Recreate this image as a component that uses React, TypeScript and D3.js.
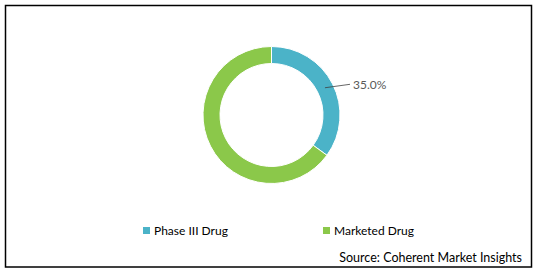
import React from "react";
import * as d3 from "d3";

const categories = ["Phase III Drug", "Marketed Drug"];
const values = [35.0, 65.0];
const colors = ["#4bb3c8", "#8bc84a"];
const labels = ["35.0%", ""];

export default function App() {
  const W = 538, H = 272;
  const cx = 271.5, cy = 115, rOuter = 68.5, rInner = 51.5;
  const pie = d3.pie<number>().sort(null).value((d) => d);
  const arcs = pie(values);
  const arc = d3.arc<d3.PieArcDatum<number>>().innerRadius(rInner).outerRadius(rOuter);
  const a0 = arcs[0];
  const mid = (a0.startAngle + a0.endAngle) / 2;
  const r1 = 60;
  const p1 = [cx + r1 * Math.sin(mid), cy - r1 * Math.cos(mid)];
  const p2 = [350, 84.3];
  return (
    <svg width={W} height={H} style={{ position: "absolute", left: 0, top: 0 }}>
      <rect x={0} y={0} width={W} height={H} fill="#fff" />
      <rect x={5.5} y={5.5} width={526} height={261.5} fill="none" stroke="#000" strokeWidth={1.5} />
      <g transform={`translate(${cx},${cy})`}>
        {arcs.map((a, i) => (
          <path key={i} d={arc(a) || ""} fill={colors[i]} stroke="#fff" strokeWidth={1} />
        ))}
      </g>
      <line x1={p1[0]} y1={p1[1]} x2={p2[0]} y2={p2[1]} stroke="#404040" strokeWidth={0.8} />
      <text x={353} y={89} fontFamily="Lato, 'Open Sans', sans-serif" fontSize={12} fill="#595959">
        {labels[0]}
      </text>
      {categories.map((c, i) => {
        const x = i === 0 ? 143 : 323;
        return (
          <g key={c}>
            <rect x={x} y={227} width={7} height={7} fill={colors[i]} />
            <text x={x + 11} y={234.5} fontFamily="Lato, 'Open Sans', sans-serif" fontSize={12} fill="#000">
              {c}
            </text>
          </g>
        );
      })}
      <text x={522} y={262} textAnchor="end" fontFamily="Lato, 'Open Sans', sans-serif" fontSize={12.5} fill="#000">
        Source: Coherent Market Insights
      </text>
    </svg>
  );
}
